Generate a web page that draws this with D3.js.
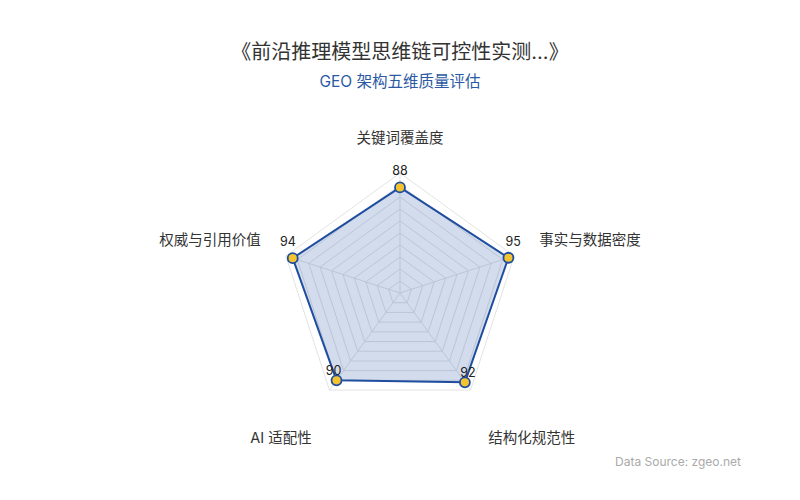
<!DOCTYPE html>
<html>
<head>
<meta charset="utf-8">
<script src="https://cdn.jsdelivr.net/npm/d3@7"></script>
<style>
  body { margin: 0; background: #fff; }
  svg text { font-family: Inter, "Noto Sans CJK SC", sans-serif; }
</style>
</head>
<body>
<div id="viz"></div>
<script>
// data
const axes = ['关键词覆盖度', '事实与数据密度', '结构化规范性', 'AI 适配性', '权威与引用价值'];
const scores = [88, 95, 92, 90, 94];
const maxScore = 100;
const levels = 10;

const titleText = '《前沿推理模型思维链可控性实测...》';
const subtitleText = 'GEO 架构五维质量评估';
const sourceText = 'Data Source: zgeo.net';

// layout
const width = 800, height = 500;
const cx = 400, cy = 293, R = 120;
const blue = '#1f4ea0';

let svg = d3.select('#viz').append('svg')
  .attr('width', width)
  .attr('height', height);

let r = d3.scaleLinear().domain([0, maxScore]).range([0, R]);
let angle = d3.scalePoint().domain(d3.range(axes.length)).range([0, 2 * Math.PI * (axes.length - 1) / axes.length]);

function dir(i) {
  let a = angle(i) - Math.PI / 2;
  return [Math.cos(a), Math.sin(a)];
}

function pt(i, v) {
  let [c, s] = dir(i);
  return [cx + r(v) * c, cy + r(v) * s];
}

// titles
svg.append('text')
  .attr('x', width / 2).attr('y', 59)
  .attr('text-anchor', 'middle')
  .attr('font-size', 20)
  .attr('fill', '#333')
  .text(titleText);

svg.append('text')
  .attr('x', width / 2).attr('y', 86.5)
  .attr('text-anchor', 'middle')
  .attr('font-size', 15.5)
  .attr('fill', '#2b59a3')
  .text(subtitleText);

// grid rings
let grid = svg.append('g');
d3.range(1, levels + 1).forEach((l) => {
  let v = maxScore * l / levels;
  grid.append('polygon')
    .attr('points', axes.map((d, i) => pt(i, v).join(',')).join(' '))
    .attr('fill', 'none')
    .attr('stroke', '#e3e3e3')
    .attr('stroke-width', 1);
});

// spokes
grid.selectAll('line')
  .data(axes)
  .enter()
  .append('line')
  .attr('x1', cx).attr('y1', cy)
  .attr('x2', (d, i) => pt(i, maxScore)[0])
  .attr('y2', (d, i) => pt(i, maxScore)[1])
  .attr('stroke', '#e3e3e3');

// data area
let line = d3.line().curve(d3.curveLinearClosed);
svg.append('path')
  .attr('d', line(scores.map((v, i) => pt(i, v))))
  .attr('fill', blue)
  .attr('fill-opacity', 0.2)
  .attr('stroke', blue)
  .attr('stroke-width', 2)
  .attr('stroke-linejoin', 'round');

// points
svg.selectAll('circle.dot')
  .data(scores)
  .enter()
  .append('circle')
  .attr('class', 'dot')
  .attr('cx', (d, i) => pt(i, d)[0])
  .attr('cy', (d, i) => pt(i, d)[1])
  .attr('r', 5)
  .attr('fill', '#f4c430')
  .attr('stroke', blue)
  .attr('stroke-width', 1.8);

// value labels
svg.selectAll('text.val')
  .data(scores)
  .enter()
  .append('text')
  .attr('class', 'val')
  .attr('x', (d, i) => pt(i, d)[0] + 5 * dir(i)[0])
  .attr('y', (d, i) => pt(i, d)[1] + (dir(i)[1] > 0.5 ? -5 : -12))
  .attr('text-anchor', 'middle')
  .attr('font-size', 12.5)
  .attr('fill', '#222')
  .text((d) => d);

// axis names
svg.selectAll('text.axis')
  .data(axes)
  .enter()
  .append('text')
  .attr('class', 'axis')
  .attr('x', (d, i) => pt(i, maxScore * (Math.abs(dir(i)[0]) > 0.9 ? 1.22 : 1.25))[0])
  .attr('y', (d, i) => {
    let s = dir(i)[1];
    let p = pt(i, maxScore * (Math.abs(dir(i)[0]) > 0.9 ? 1.22 : 1.25));
    return p[1] + (s > 0.5 ? 29 : s < -0.9 ? 0 : -3);
  })
  .attr('text-anchor', (d, i) => {
    let c = dir(i)[0];
    return Math.abs(c) < 0.01 ? 'middle' : c > 0 ? 'start' : 'end';
  })
  .attr('font-size', 14.5)
  .attr('fill', '#333')
  .text((d) => d);

// source
svg.append('text')
  .attr('x', 741).attr('y', 466)
  .attr('text-anchor', 'end')
  .attr('font-size', 12)
  .attr('fill', '#aaa')
  .text(sourceText);
</script>
</body>
</html>
